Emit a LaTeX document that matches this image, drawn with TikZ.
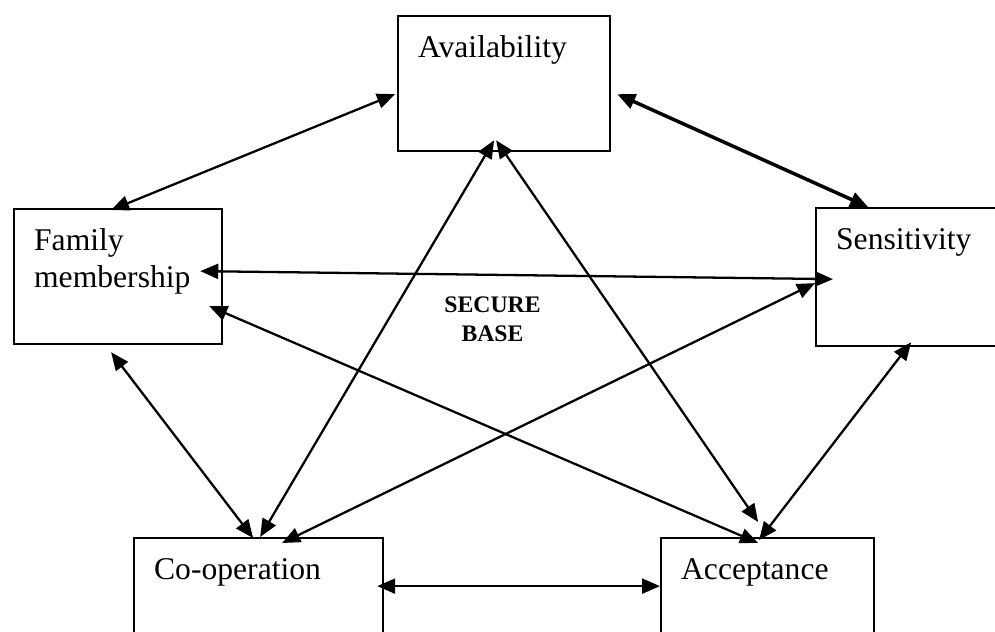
\documentclass[tikz,border=0pt]{standalone}
\usepackage{fontspec}
\setmainfont{Liberation Serif}
\usetikzlibrary{arrows.meta}
\tikzset{
  box/.style={draw,line width=1.3pt,anchor=north west,align=left,inner xsep=0.4cm,inner ysep=0pt,text height=0.82cm,text depth=1.88cm,font=\fontsize{18}{21}\selectfont},
  arr/.style={{Triangle[length=0.36cm,width=0.3cm]}-{Triangle[length=0.36cm,width=0.3cm]},line width=1.3pt},
  tarr/.style={arr,line width=2pt},
  lbl/.style={font=\fontsize{13.5}{16.5}\selectfont\bfseries,align=center,inner sep=0pt},
}
\begin{document}
\begin{tikzpicture}[x=0.02cm,y=-0.02cm]
  \clip (0,0) rectangle (995,632);
  \node[box,text width=3.44cm] (avail) at (397,15) {Availability};
  \node[box,text width=3.36cm] (fam) at (13,208) {Family\\membership};
  \node[box,text width=3.4cm,text depth=1.94cm] (sens) at (815,207) {Sensitivity};
  \node[box,text width=4.18cm] (coop) at (133,537) {Co-operation};
  \node[box,text width=3.46cm] (acc) at (660,537) {Acceptance};
  \node[lbl] (base) at (492.5,319) {SECURE\\BASE};
  \draw[arr] ([shift={(-7,2)}]fam.north) -- ([shift={(-2,10.5)}]avail.west);
  \draw[tarr] ([shift={(6,10.5)}]avail.east) -- ([shift={(-53,0)}]sens.north);
  \draw[arr] ([shift={(-23,-5.5)}]fam.east) -- ([shift={(18,2)}]sens.west);
  \draw[arr] ([shift={(-14,29.5)}]fam.east) -- ([shift={(-9.5,6)}]acc.north);
  \draw[arr] ([shift={(-7,7)}]fam.south) -- ([shift={(-5.5,1)}]coop.north);
  \draw[arr] ([shift={(-10,-12)}]avail.south) -- ([shift={(1.5,0)}]coop.north);
  \draw[arr] ([shift={(-8,-12)}]avail.south) -- ([shift={(-9.5,-15)}]acc.north);
  \draw[arr] ([shift={(0,6)}]sens.west) -- ([shift={(23.5,6)}]coop.north);
  \draw[arr] ([shift={(-10,-5)}]sens.south) -- ([shift={(-8.5,3)}]acc.north);
  \draw[arr] ([shift={(-7,-19.5)}]coop.east) -- ([shift={(0,-19.5)}]acc.west);
\end{tikzpicture}
\end{document}
